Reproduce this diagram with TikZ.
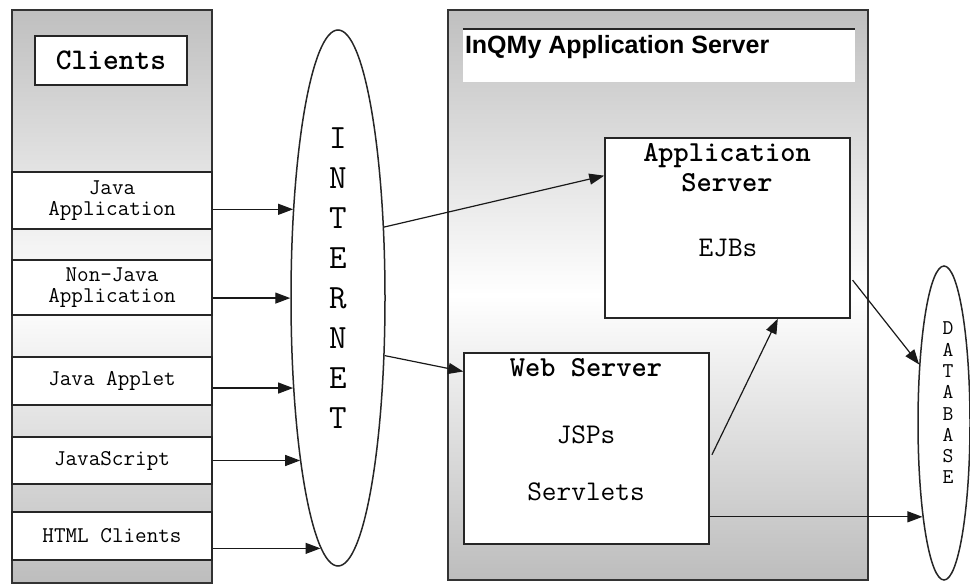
\documentclass[tikz,border=0pt]{standalone}
\usepackage{fontspec}
\setmainfont{Liberation Serif}
\setsansfont{Liberation Sans}
\usepackage{tikz}
\usetikzlibrary{arrows.meta, positioning, shapes.geometric, calc}

\begin{document}
\begin{tikzpicture}[x=1pt, y=-1pt, >={Triangle[length=15pt,width=11pt]},
		panel/.style={draw=black!80, line width=1.5pt, rectangle, inner sep=0pt, top color=gray!50, bottom color=gray!52, middle color=white},
		box/.style={draw=black!85, line width=1.5pt, rectangle, fill=white, inner sep=0pt},
		row/.style={box, minimum width=200pt, font=\ttfamily\fontsize{22.5}{21}\selectfont, align=center},
		cloud/.style={draw=black!85, line width=1.5pt, ellipse, fill=white, inner sep=0pt},
		big/.style={font=\ttfamily\bfseries\fontsize{29}{30}\selectfont, align=center},
		mid/.style={font=\ttfamily\fontsize{28.5}{27}\selectfont},
		link/.style={->, line width=1.2pt, black!90}]
	\useasboundingbox (0,0) rectangle (970,585);
	\node[panel, minimum width=200pt, minimum height=573pt] (cl) at (112,296.5) {};
	\node[box, minimum width=152pt, minimum height=49pt, font=\ttfamily\bfseries\fontsize{30}{28}\selectfont] (cltitle) at (111,60.5) {Clients};
	\node[row, minimum height=57pt] (ja) at (112,200.5) {Java\\Application};
	\node[row, minimum height=55pt] (nj) at (112,287.5) {Non-Java\\Application};
	\node[row, minimum height=48pt] (ap) at (112,381) {Java Applet};
	\node[row, minimum height=47pt] (js) at (112,460.5) {JavaScript};
	\node[row, minimum height=48pt] (ht) at (112,536) {HTML Clients};

	\node[cloud, minimum width=94pt, minimum height=536pt] (inet) at (338,298) {};
	\node[font=\ttfamily\fontsize{34}{40}\selectfont, align=center] (inettext) at (338,278) {I\\N\\T\\E\\R\\N\\E\\T};

	\node[panel, minimum width=420pt, minimum height=570pt] (srv) at (658,295) {};
	\node[rectangle, fill=white, inner sep=0pt, minimum width=392pt, minimum height=53pt] (srvtitle) at (659,55.5) {};
	\draw[line width=1.5pt, black!85] (srvtitle.north west) -- (srvtitle.north east);
	\node[anchor=west, inner sep=0pt, font=\sffamily\bfseries\fontsize{25}{28}\selectfont] (srvname) at ([xshift=2pt,yshift=8pt]srvtitle.west) {InQMy Application Server};

	\node[box, minimum width=245pt, minimum height=180pt] (app) at (727.5,228) {};
	\node[big] (apptitle) at (727,168) {Application\\Server};
	\node[mid] (ejb) at (728,248) {EJBs};

	\node[box, minimum width=245pt, minimum height=191pt] (web) at (586.5,448.5) {};
	\node[big] (webtitle) at (586,368) {Web Server};
	\node[mid] (jsp) at (586,435) {JSPs};
	\node[mid] (servlet) at (586,492) {Servlets};

	\node[cloud, minimum width=52pt, minimum height=314pt] (db) at (944,423) {};
	\node[font=\ttfamily\fontsize{21}{21.3}\selectfont, align=center] (dbtext) at (948,403) {D\\A\\T\\A\\B\\A\\S\\E};

	\draw[link] (ja.355) -- (ja.355 -| inet.116);
	\draw[link] (nj.354) -- (nj.354 -| inet.180);
	\draw[link] (ap.356) -- (ap.356 -| inet.244);
	\draw[link] (js.east) -- (js.east -| inet.257);
	\draw[link] (ht.353) -- (ht.353 -| inet.266);
	\draw[link] (inet.57) -- (app.157);
	\draw[link] (inet.309) -- (web.148);
	\draw[link, shorten <=5pt] (web.355) -- (app.299);
	\draw[link, shorten <=3pt] (app.338) -- (db.113);
	\draw[link] (web.331) -- (web.331 -| db.257);
\end{tikzpicture}
\end{document}
